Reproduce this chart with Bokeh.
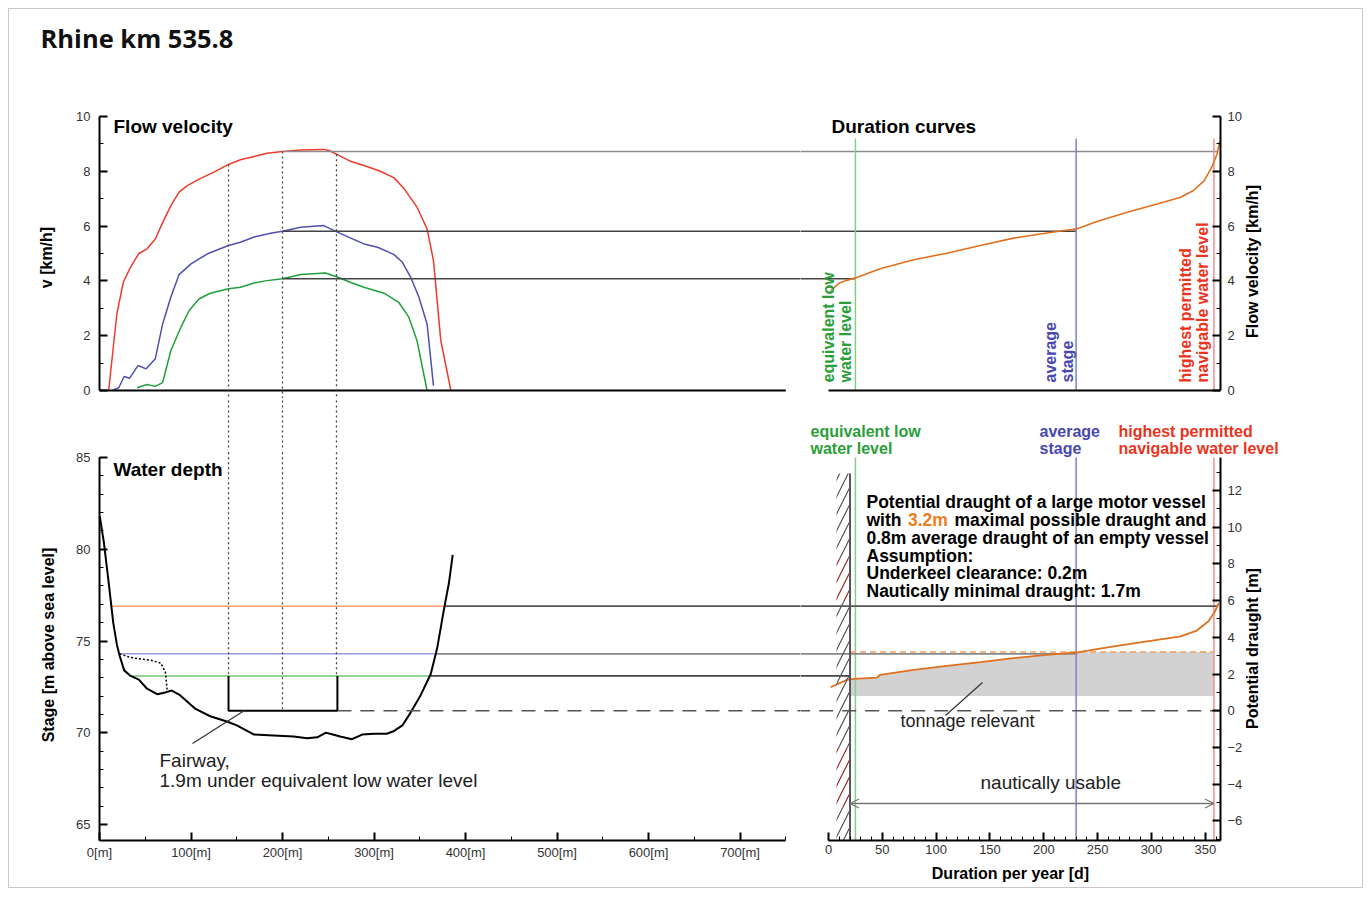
import numpy as np
from bokeh.plotting import figure
from bokeh.layouts import row, column
from bokeh.models import (Range1d, LinearAxis, SingleIntervalTicker, PrintfTickFormatter,
                          Label, Arrow, OpenHead)
from bokeh.embed import file_html
from bokeh.resources import INLINE

FONT = "Liberation Sans"

# ---------------- data ----------------
# flow velocity across the section [m] -> [km/h]
x_hnwl = [10, 19, 26, 34, 43, 52, 61, 70, 78, 87, 96, 110, 125, 141, 154, 169, 183, 200, 220, 245, 251,
          260, 274, 289, 307, 322, 333, 347, 358, 365, 373, 384]
v_hnwl = [0, 2.8, 3.95, 4.5, 5.0, 5.17, 5.53, 6.2, 6.75, 7.24, 7.48, 7.73, 7.97, 8.25, 8.42, 8.54, 8.66,
          8.72, 8.78, 8.8, 8.76, 8.61, 8.37, 8.21, 8.0, 7.76, 7.36, 6.69, 5.9, 4.74, 1.82, 0]
x_mean = [14, 21, 27, 33, 42, 51, 61, 69, 78, 87, 100, 118, 141, 154, 169, 187, 200, 220, 245, 260, 274,
          289, 304, 322, 331, 340, 349, 358, 365]
v_mean = [0, 0.1, 0.51, 0.45, 0.91, 0.79, 1.16, 2.43, 3.41, 4.23, 4.62, 4.99, 5.29, 5.41, 5.6, 5.74, 5.81,
          5.96, 6.02, 5.78, 5.57, 5.35, 5.23, 4.96, 4.68, 4.14, 3.41, 2.43, 0.18]
x_elw = [41, 52, 61, 69, 78, 89, 98, 109, 121, 141, 154, 169, 183, 200, 220, 247, 260, 274, 289, 311, 327,
         338, 347, 358]
v_elw = [0.1, 0.22, 0.15, 0.29, 1.46, 2.31, 2.92, 3.35, 3.55, 3.71, 3.77, 3.92, 4.01, 4.08, 4.23, 4.29, 4.14,
         3.95, 3.77, 3.55, 3.22, 2.68, 1.82, 0]

# duration curve of flow velocity [d] -> [km/h]
dur_day = [2, 10, 16, 25, 48, 79, 110, 141, 172, 203, 219, 231, 250, 280, 311, 327, 339, 349, 356, 361, 363.5]
dur_v = [3.65, 3.92, 4.01, 4.11, 4.44, 4.77, 5.01, 5.29, 5.56, 5.75, 5.84, 5.9, 6.18, 6.53, 6.87, 7.05, 7.3,
         7.66, 8.15, 8.64, 9.12]

# river bed profile [m] -> [m above sea level]
prof_x = [0.3, 4.7, 10, 15, 19, 22, 27, 34, 43, 52, 63, 72, 79, 88, 105, 121, 140, 150, 169, 190, 212, 227,
          238, 247, 252, 263, 276, 287, 300, 314, 322, 331, 340, 351, 362, 369, 376, 382, 386]
prof_z = [81.8, 80.4, 78.2, 76.0, 74.8, 74.2, 73.4, 73.1, 72.9, 72.4, 72.1, 72.2, 72.3, 72.05, 71.3, 70.9,
          70.6, 70.4, 69.9, 69.85, 69.8, 69.7, 69.75, 70.0, 69.95, 69.8, 69.65, 69.9, 69.95, 69.95, 70.1,
          70.4, 71.1, 72.05, 73.2, 74.6, 76.6, 78.2, 79.7]
old_x = [22, 34, 56, 67, 72, 74]
old_z = [74.3, 74.1, 73.95, 73.8, 73.3, 72.3]

# duration curve of potential draught [d] -> [m]
drt_day = [2, 17, 23.5, 45, 48, 79, 110, 141, 172, 203, 231, 265, 296, 327, 342, 353, 359, 362.5]
drt_val = [1.28, 1.68, 1.74, 1.81, 1.96, 2.23, 2.45, 2.65, 2.87, 3.05, 3.18, 3.51, 3.78, 4.05, 4.37, 4.88,
           5.42, 5.88]

# characteristic water levels: highest navigable, average, equivalent low
stage_levels = [76.9, 74.3, 73.1]
level_left_m = [12, 21, 33]
level_right_m = [377, 367, 360]
level_end_day = [362, 231, 20]
v_line_end_day = [361, 230, 25]
marker_days = [25, 230, 358]           # equivalent low, average, highest navigable
fairway_x = [141, 200, 259]
fairway_left, fairway_right = 141, 260
fairway_bottom = 71.2
fairway_top = 73.1
max_draught = 3.2
empty_draught = 0.8
wall_day = 20
section_end_m = 750
year_end_day = 364
stage_axis = (64.13, 85.0)

# ---------------- colours ----------------
C_RED, C_BLUE, C_GREEN = "#ee3b2b", "#5050b4", "#1fa03c"
C_RED_L, C_BLUE_L, C_GREEN_L = "#f5a07a", "#9a9ade", "#72c672"
C_RED_V, C_BLUE_V, C_GREEN_V = "#f09090", "#8080cc", "#88cc88"
C_ORANGE = "#e0701e"
T_GREEN, T_BLUE, T_RED = "#2a9e3a", "#4848b0", "#ea3420"

# ---------------- ranges ----------------
PXV = 274 / 10.0                                   # px per km/h
PXS = 383 / (stage_axis[1] - stage_axis[0])        # px per m of stage
XM = (0, 766.1)
XD = (-26.0, 364.1)
XD_WIDE = (-26.0, -26.0 + 561 * (XD[1] - XD[0]) / 420)
YV = (-8 / PXV, 10)
YS = stage_axis
YS_L = (stage_axis[0], stage_axis[1] + 8 / PXS)    # left panel frame reaches 8px higher
YD = (YS[0] - fairway_bottom, YS[1] - fairway_bottom)

# reference pixel -> data, used only to place annotations
def mx(px): return (px - 99) * (XM[1] - XM[0]) / 701 + XM[0]
def dx(px): return (px - 800) * (XD[1] - XD[0]) / 420 + XD[0]
def vy(py): return 10 - (py - 116) / PXV
def sy(py): return YS[1] - (py - 457) / PXS
def ry(py): return sy(py) - fairway_bottom


def make_fig(xr, yr, fw, fh, ml, mr, mt, mb, xloc, yloc):
    p = figure(x_range=Range1d(*xr), y_range=Range1d(*yr), frame_width=fw, frame_height=fh,
               min_border_left=ml, min_border_right=mr, min_border_top=mt, min_border_bottom=mb,
               x_axis_location=xloc, y_axis_location=yloc, output_backend="svg",
               toolbar_location=None, tools="")
    p.outline_line_color = None
    p.grid.visible = False
    return p


def style_axis(ax, interval, nminor, bounds=None, label=None, lstand=5, tstand=8):
    ax.ticker = SingleIntervalTicker(interval=interval, num_minor_ticks=nminor)
    if bounds is not None:
        ax.bounds = bounds
    ax.axis_line_width = 2
    ax.axis_line_color = "black"
    ax.major_tick_in = 8
    ax.major_tick_out = 0
    ax.minor_tick_in = 4
    ax.minor_tick_out = 0
    ax.major_tick_line_width = 2
    ax.minor_tick_line_width = 1
    ax.major_label_text_font = FONT
    ax.major_label_text_font_size = "13px"
    ax.major_label_text_color = "#333333"
    ax.major_label_standoff = tstand
    if label:
        ax.axis_label = label
        ax.axis_label_text_font = FONT
        ax.axis_label_text_font_size = "16px"
        ax.axis_label_text_font_style = "bold"
        ax.axis_label_text_color = "black"
        ax.axis_label_standoff = lstand


def label(p, x, y, text, size="19px", bold=True, color="black", align="left", baseline="middle",
          angle=0.0, xr="default", yr="default", lh=1.05):
    p.add_layout(Label(x=x, y=y, text=text, text_font=FONT, text_font_size=size,
                       text_font_style="bold" if bold else "normal", text_color=color,
                       text_align=align, text_baseline=baseline, angle=angle,
                       x_range_name=xr, y_range_name=yr, text_line_height=lh))


TOTAL_W = 1352
LEFT_W = 90 + 701
MID_W = 420 + 24
RIGHT_W = TOTAL_W - LEFT_W - MID_W

# ================= title strip =================
tt = make_fig((0, TOTAL_W), (0, 99), TOTAL_W, 99, 0, 0, 0, 0, None, None)
tt.add_layout(Label(x=31, y=99 - (37 - 9), text="Rhine km 535.8", text_font="Open Sans",
                    text_font_size="25.5px", text_font_style="bold", text_color="#111111",
                    text_baseline="middle"))

# ================= top left: flow velocity =================
tl = make_fig(XM, YV, 701, 282, 90, 0, 8, 0, None, "left")
style_axis(tl.yaxis[0], 2, 2, (0, 10), "v [km/h]", lstand=18, tstand=9)

curves = [(x_hnwl, v_hnwl, C_RED), (x_mean, v_mean, C_BLUE), (x_elw, v_elw, C_GREEN)]
v_levels = [float(np.interp(fairway_x[1], cx, cv)) for cx, cv, _ in curves]
for cx, cv, col in curves:
    tl.line(cx, cv, line_color=col, line_width=1.5)
tl.line([0, section_end_m], [0, 0], line_color="black", line_width=2)
tl.segment(x0=[fairway_x[1]] * 3, y0=v_levels, x1=[5000] * 3, y1=v_levels,
           line_color=["#8c8c8c", "#444444", "#444444"], line_width=1.6)
v_top = [float(np.interp(f, x_hnwl, v_hnwl)) for f in fairway_x]
tl.segment(x0=fairway_x, y0=v_top, x1=fairway_x, y1=[-10] * 3,
           line_color="#444444", line_width=1.3, line_dash="2 3")
label(tl, mx(113), vy(126), "Flow velocity")

# ================= top right: duration curves =================
tr = make_fig(XD, YV, 420, 282, 0, 24, 8, 0, None, "right")
style_axis(tr.yaxis[0], 2, 2, (0, 10), None, tstand=7)
tr.segment(x0=[-500] * 3, y0=v_levels, x1=v_line_end_day, y1=v_levels,
           line_color=["#8c8c8c", "#444444", "#444444"], line_width=1.6)
tr.segment(x0=marker_days, y0=[9.2] * 3, x1=marker_days, y1=[0] * 3,
           line_color=[C_GREEN_V, C_BLUE_V, C_RED_V], line_width=1.5)
tr.line([0, year_end_day], [0, 0], line_color="black", line_width=2)
tr.line(dur_day, dur_v, line_color=C_ORANGE, line_width=1.6)
label(tr, dx(831), vy(126), "Duration curves")
label(tr, dx(819), vy(382), "equivalent low\nwater level", size="16px", color=T_GREEN,
      baseline="top", angle=np.pi / 2)
label(tr, dx(1041), vy(382), "average\nstage", size="16px", color=T_BLUE, baseline="top", angle=np.pi / 2)
label(tr, dx(1176), vy(382), "highest permitted\nnavigable water level", size="16px", color=T_RED,
      baseline="top", angle=np.pi / 2)

# right axis title of the top row
rt_h = 8 + 282
rt = make_fig((0, RIGHT_W), (0, rt_h), RIGHT_W, rt_h, 0, 0, 0, 0, None, None)
label(rt, 8, rt_h - (253 - 108), "Flow velocity [km/h]", size="16px", align="center", angle=np.pi / 2,
      lh=1.2)

# ================= gap strips between the rows =================
ml = make_fig(XM, (vy(449), vy(398)), 701, 449 - 398, 90, 0, 0, 0, None, None)
ml.segment(x0=fairway_x, y0=[0] * 3, x1=fairway_x, y1=[-10] * 3,
           line_color="#444444", line_width=1.3, line_dash="2 3")
mr = make_fig(XD_WIDE, (vy(457), vy(398)), TOTAL_W - LEFT_W, 457 - 398, 0, 0, 0, 0, None, None)
label(mr, dx(810), vy(422), "equivalent low\nwater level", size="16px", color=T_GREEN, baseline="top", lh=1.0)
label(mr, dx(1039), vy(422), "average\nstage", size="16px", color=T_BLUE, baseline="top", lh=1.0)
label(mr, dx(1118), vy(422), "highest permitted\nnavigable water level", size="16px", color=T_RED,
      baseline="top", lh=1.0)

# ================= bottom left: water depth =================
bl = make_fig(XM, YS_L, 701, 383 + 8, 90, 0, 0, 47, "below", "left")
style_axis(bl.xaxis[0], 100, 2, (0, section_end_m), tstand=4)
bl.xaxis[0].formatter = PrintfTickFormatter(format="%d[m]")
style_axis(bl.yaxis[0], 5, 5, stage_axis, "Stage [m above sea level]", lstand=16, tstand=9)

bl.segment(x0=level_left_m, y0=stage_levels, x1=level_right_m, y1=stage_levels,
           line_color=[C_RED_L, C_BLUE_L, C_GREEN_L], line_width=1.5)
bl.segment(x0=level_right_m, y0=stage_levels, x1=[5000] * 3, y1=stage_levels,
           line_color=["#555555", "#888888", "#444444"], line_width=1.6)
bl.line(prof_x, prof_z, line_color="black", line_width=2)
bl.line(old_x, old_z, line_color="black", line_width=1.5, line_dash="2 2")
bl.line([fairway_left, fairway_left, fairway_right, fairway_right],
        [fairway_top, fairway_bottom, fairway_bottom, fairway_top], line_color="black", line_width=2)
bl.segment(x0=[fairway_right], y0=[fairway_bottom], x1=[5000], y1=[fairway_bottom],
           line_color="#555555", line_width=1.6, line_dash="14 9")
bl.segment(x0=fairway_x, y0=[100] * 3, x1=fairway_x, y1=[fairway_top, fairway_bottom, fairway_top],
           line_color="#444444", line_width=1.3, line_dash="2 3")
bl.segment(x0=[mx(192)], y0=[sy(743)], x1=[mx(244)], y1=[sy(710)], line_color="#333333", line_width=1.2)
label(bl, mx(113), sy(469), "Water depth")
label(bl, mx(159), sy(760), "Fairway,", bold=False, color="#222222")
label(bl, mx(159), sy(780), "1.9m under equivalent low water level", bold=False, color="#222222")

# ================= bottom right: potential draught =================
br = make_fig(XD, YS, 420, 383, 0, 24, 0, 47, "below", None)
br.extra_y_ranges = {"draught": Range1d(*YD)}
style_axis(br.xaxis[0], 50, 5, (0, year_end_day), "Duration per year [d]", lstand=8, tstand=4)
rax = LinearAxis(y_range_name="draught")
br.add_layout(rax, "right")
style_axis(rax, 2, 2, None, None, tstand=7)

band_x = [wall_day] + [d for d in drt_day if wall_day < d < marker_days[2]] + [marker_days[2]]
band_top = np.minimum(np.interp(band_x, drt_day, drt_val), max_draught)
br.varea(x=band_x, y1=[empty_draught] * len(band_x), y2=band_top, fill_color="#d2d2d2",
         y_range_name="draught")
br.segment(x0=marker_days, y0=[-50] * 3, x1=marker_days, y1=[50] * 3,
           line_color=[C_GREEN_V, C_BLUE_V, C_RED_V], line_width=1.5, y_range_name="draught")
br.segment(x0=[-500] * 3, y0=stage_levels, x1=level_end_day, y1=stage_levels,
           line_color=["#555555", "#888888", "#444444"], line_width=1.6)
br.segment(x0=[-500], y0=[fairway_bottom], x1=[year_end_day], y1=[fairway_bottom],
           line_color="#555555", line_width=1.6, line_dash="14 9")
br.segment(x0=[wall_day], y0=[max_draught], x1=[marker_days[2]], y1=[max_draught],
           line_color="#f0a060", line_width=1.5, line_dash="6 4", y_range_name="draught")
br.line(drt_day, drt_val, line_color=C_ORANGE, line_width=1.8, y_range_name="draught")

# bank wall with hatching
wall_top = ry(473)
hatch_parts = [(YD[0], ry(807), "#555555"), (ry(807), ry(747), "#9a2a2a"), (ry(747), ry(602), "#555555"),
               (ry(602), ry(558), "#9a2a2a"), (ry(558), wall_top, "#555555")]
for b, t, col in hatch_parts:
    br.quad(left=[dx(836)], right=[wall_day], bottom=[b], top=[t], fill_color=None, line_color=None,
            hatch_pattern="/", hatch_color=col, hatch_scale=17, hatch_weight=1.2, y_range_name="draught")
br.segment(x0=[wall_day], y0=[wall_top], x1=[wall_day], y1=[-50], line_color="#555555", line_width=2,
           y_range_name="draught")

# text block
ys = [501, 519, 537, 555, 572, 590]
FS = "17.5px"
label(br, dx(866), ry(ys[0]), "Potential draught of a large motor vessel", size=FS, yr="draught")
label(br, dx(866), ry(ys[1]), "with", size=FS, yr="draught")
label(br, dx(907.5), ry(ys[1]), "3.2m", size=FS, color="#f07d1e", yr="draught")
label(br, dx(954), ry(ys[1]), "maximal possible draught and", size=FS, yr="draught")
label(br, dx(866), ry(ys[2]), "0.8m average draught of an empty vessel", size=FS, yr="draught")
label(br, dx(866), ry(ys[3]), "Assumption:", size=FS, yr="draught")
label(br, dx(866), ry(ys[4]), "Underkeel clearance:  0.2m", size=FS, yr="draught")
label(br, dx(866), ry(ys[5]), "Nautically minimal draught: 1.7m", size=FS, yr="draught")

br.segment(x0=[dx(982)], y0=[ry(682)], x1=[dx(945)], y1=[ry(715)], line_color="#333333", line_width=1.2,
           y_range_name="draught")
label(br, dx(900), ry(720), "tonnage relevant", size="18px", bold=False, color="#222222", yr="draught")
label(br, dx(980), ry(782), "nautically usable", size="19px", bold=False, color="#222222", yr="draught")
br.add_layout(Arrow(x_start=wall_day, y_start=ry(803), x_end=marker_days[2], y_end=ry(803),
                    start=OpenHead(size=9, line_color="#777777", line_width=1.3),
                    end=OpenHead(size=9, line_color="#777777", line_width=1.3),
                    line_color="#777777", line_width=1.3, y_range_name="draught"))

# right axis title of the bottom row
rb_h = 383 + 47
rb = make_fig((0, RIGHT_W), (0, rb_h), RIGHT_W, rb_h, 0, 0, 0, 0, None, None)
label(rb, 7, rb_h - (648 - 457), "Potential draught [m]", size="16px", align="center", angle=np.pi / 2,
      lh=1.2)

left_col = column(tl, ml, bl)
right_col = column(row(tr, rt), mr, row(br, rb))
layout = column(tt, row(left_col, right_col),
                styles={"border": "1px solid #c8c8c8", "margin": "8px 0 0 8px"})
open("out.html", "w").write(file_html(layout, INLINE))
